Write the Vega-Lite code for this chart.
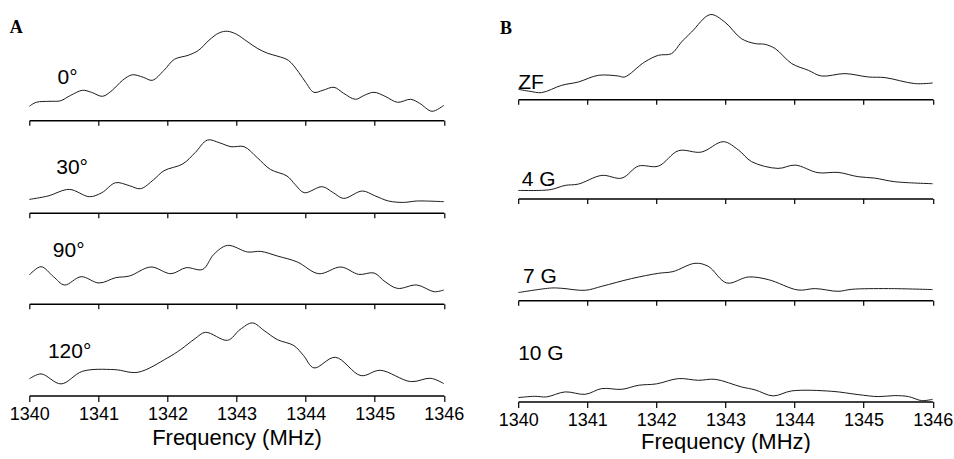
{
  "$schema": "https://vega.github.io/schema/vega-lite/v6.json",
  "background": "white",
  "autosize": {"type": "pad"},
  "padding": {"left": 8.3, "top": 12, "right": 0, "bottom": 0},
  "columns": 2,
  "align": "each",
  "bounds": "flush",
  "spacing": {"row": 2, "column": 73.9},
  "datasets": {
    "spectra": [
      {"panel":"A0","freq":1340.0,"intensity":14},{"panel":"A0","freq":1340.1,"intensity":18},{"panel":"A0","freq":1340.3,"intensity":19},{"panel":"A0","freq":1340.45,"intensity":19.5},{"panel":"A0","freq":1340.6,"intensity":25},{"panel":"A0","freq":1340.77,"intensity":30},{"panel":"A0","freq":1340.9,"intensity":28},{"panel":"A0","freq":1341.06,"intensity":24},{"panel":"A0","freq":1341.2,"intensity":30},{"panel":"A0","freq":1341.35,"intensity":40},{"panel":"A0","freq":1341.49,"intensity":45.5},{"panel":"A0","freq":1341.65,"intensity":43},{"panel":"A0","freq":1341.78,"intensity":40},{"panel":"A0","freq":1341.95,"intensity":50},{"panel":"A0","freq":1342.1,"intensity":61},{"panel":"A0","freq":1342.3,"intensity":65},{"panel":"A0","freq":1342.45,"intensity":70},{"panel":"A0","freq":1342.6,"intensity":80},{"panel":"A0","freq":1342.75,"intensity":87.5},{"panel":"A0","freq":1342.87,"intensity":89},{"panel":"A0","freq":1343.0,"intensity":86},{"panel":"A0","freq":1343.15,"intensity":79},{"panel":"A0","freq":1343.3,"intensity":72},{"panel":"A0","freq":1343.45,"intensity":67},{"panel":"A0","freq":1343.6,"intensity":64},{"panel":"A0","freq":1343.75,"intensity":60},{"panel":"A0","freq":1343.9,"intensity":48},{"panel":"A0","freq":1344.0,"intensity":38},{"panel":"A0","freq":1344.12,"intensity":28},{"panel":"A0","freq":1344.25,"intensity":30},{"panel":"A0","freq":1344.41,"intensity":33},{"panel":"A0","freq":1344.55,"intensity":27},{"panel":"A0","freq":1344.72,"intensity":21},{"panel":"A0","freq":1344.85,"intensity":25},{"panel":"A0","freq":1344.99,"intensity":28},{"panel":"A0","freq":1345.15,"intensity":24},{"panel":"A0","freq":1345.33,"intensity":18},{"panel":"A0","freq":1345.52,"intensity":21},{"panel":"A0","freq":1345.65,"intensity":17},{"panel":"A0","freq":1345.83,"intensity":9},{"panel":"A0","freq":1346.0,"intensity":15},
      {"panel":"A1","freq":1340.0,"intensity":13.3},{"panel":"A1","freq":1340.27,"intensity":16.7},{"panel":"A1","freq":1340.58,"intensity":23.3},{"panel":"A1","freq":1340.87,"intensity":16},{"panel":"A1","freq":1341.05,"intensity":20},{"panel":"A1","freq":1341.25,"intensity":30},{"panel":"A1","freq":1341.45,"intensity":27},{"panel":"A1","freq":1341.61,"intensity":24},{"panel":"A1","freq":1341.8,"intensity":33},{"panel":"A1","freq":1341.95,"intensity":42},{"panel":"A1","freq":1342.22,"intensity":48.7},{"panel":"A1","freq":1342.4,"intensity":60},{"panel":"A1","freq":1342.58,"intensity":72.7},{"panel":"A1","freq":1342.75,"intensity":70},{"panel":"A1","freq":1342.92,"intensity":66},{"panel":"A1","freq":1343.11,"intensity":66},{"panel":"A1","freq":1343.3,"intensity":55},{"panel":"A1","freq":1343.49,"intensity":43.3},{"panel":"A1","freq":1343.73,"intensity":36.7},{"panel":"A1","freq":1343.85,"intensity":28},{"panel":"A1","freq":1343.98,"intensity":20},{"panel":"A1","freq":1344.24,"intensity":26},{"panel":"A1","freq":1344.4,"intensity":20},{"panel":"A1","freq":1344.55,"intensity":14.3},{"panel":"A1","freq":1344.82,"intensity":21.7},{"panel":"A1","freq":1345.0,"intensity":17},{"panel":"A1","freq":1345.2,"intensity":11.7},{"panel":"A1","freq":1345.42,"intensity":10.3},{"panel":"A1","freq":1345.61,"intensity":11.7},{"panel":"A1","freq":1346.0,"intensity":11},
      {"panel":"A2","freq":1340.0,"intensity":28.7},{"panel":"A2","freq":1340.17,"intensity":37},{"panel":"A2","freq":1340.35,"intensity":27},{"panel":"A2","freq":1340.51,"intensity":18.7},{"panel":"A2","freq":1340.75,"intensity":27},{"panel":"A2","freq":1341.01,"intensity":20.7},{"panel":"A2","freq":1341.25,"intensity":26},{"panel":"A2","freq":1341.45,"intensity":27.7},{"panel":"A2","freq":1341.76,"intensity":36.7},{"panel":"A2","freq":1342.05,"intensity":30},{"panel":"A2","freq":1342.27,"intensity":36},{"panel":"A2","freq":1342.51,"intensity":34.3},{"panel":"A2","freq":1342.67,"intensity":49.3},{"panel":"A2","freq":1342.87,"intensity":58.3},{"panel":"A2","freq":1343.16,"intensity":51.7},{"panel":"A2","freq":1343.35,"intensity":52.3},{"panel":"A2","freq":1343.59,"intensity":47.7},{"panel":"A2","freq":1343.88,"intensity":41.7},{"panel":"A2","freq":1344.19,"intensity":30},{"panel":"A2","freq":1344.51,"intensity":36.7},{"panel":"A2","freq":1344.77,"intensity":29.3},{"panel":"A2","freq":1344.99,"intensity":30.7},{"panel":"A2","freq":1345.15,"intensity":22},{"panel":"A2","freq":1345.33,"intensity":15.3},{"panel":"A2","freq":1345.61,"intensity":18.7},{"panel":"A2","freq":1345.86,"intensity":12},{"panel":"A2","freq":1346.0,"intensity":13.7},
      {"panel":"A3","freq":1340.0,"intensity":16.7},{"panel":"A3","freq":1340.17,"intensity":21.7},{"panel":"A3","freq":1340.46,"intensity":11.7},{"panel":"A3","freq":1340.77,"intensity":24.3},{"panel":"A3","freq":1341.23,"intensity":26},{"panel":"A3","freq":1341.57,"intensity":23.3},{"panel":"A3","freq":1342.0,"intensity":37.7},{"panel":"A3","freq":1342.19,"intensity":46},{"panel":"A3","freq":1342.4,"intensity":57},{"panel":"A3","freq":1342.55,"intensity":63.3},{"panel":"A3","freq":1342.87,"intensity":55.3},{"panel":"A3","freq":1343.05,"intensity":66},{"panel":"A3","freq":1343.23,"intensity":72.7},{"panel":"A3","freq":1343.4,"intensity":65},{"panel":"A3","freq":1343.59,"intensity":56},{"panel":"A3","freq":1343.83,"intensity":50},{"panel":"A3","freq":1343.97,"intensity":40},{"panel":"A3","freq":1344.12,"intensity":27.7},{"panel":"A3","freq":1344.43,"intensity":38.3},{"panel":"A3","freq":1344.8,"intensity":20},{"panel":"A3","freq":1345.08,"intensity":25.3},{"panel":"A3","freq":1345.52,"intensity":14},{"panel":"A3","freq":1345.81,"intensity":17.3},{"panel":"A3","freq":1346.0,"intensity":12},
      {"panel":"B0","freq":1340.0,"intensity":10},{"panel":"B0","freq":1340.17,"intensity":8},{"panel":"B0","freq":1340.34,"intensity":6.7},{"panel":"B0","freq":1340.63,"intensity":14},{"panel":"B0","freq":1340.87,"intensity":17.3},{"panel":"B0","freq":1341.16,"intensity":24},{"panel":"B0","freq":1341.45,"intensity":23.3},{"panel":"B0","freq":1341.54,"intensity":22.3},{"panel":"B0","freq":1341.83,"intensity":37.3},{"panel":"B0","freq":1342.03,"intensity":44},{"panel":"B0","freq":1342.22,"intensity":45.7},{"panel":"B0","freq":1342.36,"intensity":57},{"panel":"B0","freq":1342.51,"intensity":67.3},{"panel":"B0","freq":1342.78,"intensity":84.7},{"panel":"B0","freq":1342.99,"intensity":77.3},{"panel":"B0","freq":1343.23,"intensity":60.7},{"panel":"B0","freq":1343.43,"intensity":55.7},{"panel":"B0","freq":1343.57,"intensity":55},{"panel":"B0","freq":1343.72,"intensity":50.7},{"panel":"B0","freq":1343.96,"intensity":35.7},{"panel":"B0","freq":1344.2,"intensity":29},{"panel":"B0","freq":1344.39,"intensity":23.3},{"panel":"B0","freq":1344.73,"intensity":25.7},{"panel":"B0","freq":1345.07,"intensity":22.3},{"panel":"B0","freq":1345.31,"intensity":21.7},{"panel":"B0","freq":1345.74,"intensity":15.7},{"panel":"B0","freq":1346.0,"intensity":16.3},
      {"panel":"B1","freq":1340.0,"intensity":8},{"panel":"B1","freq":1340.46,"intensity":8.7},{"panel":"B1","freq":1340.68,"intensity":13},{"panel":"B1","freq":1340.87,"intensity":14.3},{"panel":"B1","freq":1341.21,"intensity":23},{"panel":"B1","freq":1341.5,"intensity":20.3},{"panel":"B1","freq":1341.74,"intensity":32.3},{"panel":"B1","freq":1342.03,"intensity":32.3},{"panel":"B1","freq":1342.32,"intensity":47.7},{"panel":"B1","freq":1342.65,"intensity":46.3},{"panel":"B1","freq":1342.97,"intensity":56.7},{"panel":"B1","freq":1343.19,"intensity":48.3},{"panel":"B1","freq":1343.38,"intensity":36.7},{"panel":"B1","freq":1343.76,"intensity":30},{"panel":"B1","freq":1344.01,"intensity":33.3},{"panel":"B1","freq":1344.34,"intensity":25.7},{"panel":"B1","freq":1344.63,"intensity":26},{"panel":"B1","freq":1344.92,"intensity":21.7},{"panel":"B1","freq":1345.16,"intensity":20.3},{"panel":"B1","freq":1345.45,"intensity":16.7},{"panel":"B1","freq":1346.0,"intensity":14.7},
      {"panel":"B2","freq":1340.0,"intensity":7.7},{"panel":"B2","freq":1340.48,"intensity":12.3},{"panel":"B2","freq":1340.63,"intensity":12},{"panel":"B2","freq":1340.97,"intensity":10},{"panel":"B2","freq":1341.21,"intensity":14},{"panel":"B2","freq":1341.64,"intensity":21.7},{"panel":"B2","freq":1342.03,"intensity":27},{"panel":"B2","freq":1342.24,"intensity":28.7},{"panel":"B2","freq":1342.56,"intensity":37},{"panel":"B2","freq":1342.75,"intensity":34},{"panel":"B2","freq":1343.02,"intensity":17.3},{"panel":"B2","freq":1343.33,"intensity":23.3},{"panel":"B2","freq":1343.62,"intensity":20.7},{"panel":"B2","freq":1344.05,"intensity":10.3},{"panel":"B2","freq":1344.3,"intensity":11.7},{"panel":"B2","freq":1344.63,"intensity":9},{"panel":"B2","freq":1344.83,"intensity":11},{"panel":"B2","freq":1345.36,"intensity":11.7},{"panel":"B2","freq":1346.0,"intensity":10.7},
      {"panel":"B3","freq":1340.0,"intensity":4},{"panel":"B3","freq":1340.24,"intensity":5.3},{"panel":"B3","freq":1340.41,"intensity":4.7},{"panel":"B3","freq":1340.68,"intensity":9.7},{"panel":"B3","freq":1340.97,"intensity":7.3},{"panel":"B3","freq":1341.21,"intensity":13},{"panel":"B3","freq":1341.5,"intensity":12.3},{"panel":"B3","freq":1341.74,"intensity":16.3},{"panel":"B3","freq":1342.0,"intensity":17.7},{"panel":"B3","freq":1342.32,"intensity":23},{"panel":"B3","freq":1342.61,"intensity":21.3},{"panel":"B3","freq":1342.85,"intensity":22.3},{"panel":"B3","freq":1343.23,"intensity":14.7},{"panel":"B3","freq":1343.43,"intensity":11.7},{"panel":"B3","freq":1343.69,"intensity":5.7},{"panel":"B3","freq":1343.96,"intensity":10.7},{"panel":"B3","freq":1344.54,"intensity":10.3},{"panel":"B3","freq":1344.92,"intensity":7},{"panel":"B3","freq":1345.21,"intensity":5},{"panel":"B3","freq":1345.45,"intensity":6},{"panel":"B3","freq":1345.65,"intensity":5},{"panel":"B3","freq":1345.84,"intensity":1},{"panel":"B3","freq":1346.0,"intensity":2.3}
    ],
    "labels": [
      {"panel":"A0","label":"0°","freq":1340.41,"intensity":36},
      {"panel":"A1","label":"30°","freq":1340.39,"intensity":38.5},
      {"panel":"A2","label":"90°","freq":1340.34,"intensity":47},
      {"panel":"A3","label":"120°","freq":1340.27,"intensity":38},
      {"panel":"B0","label":"ZF","freq":1340.0,"intensity":10.5},
      {"panel":"B1","label":"4 G","freq":1340.05,"intensity":12.5},
      {"panel":"B2","label":"7 G","freq":1340.07,"intensity":17},
      {"panel":"B3","label":"10 G","freq":1340.0,"intensity":42}
    ]
  },
  "concat": [
    {"width": 414.5, "height": 107.3, "layer": [
      {"data": {"name": "spectra"}, "transform": [{"filter": "datum.panel === 'A0'"}],
       "mark": {"type": "line", "interpolate": "catmull-rom", "color": "#1a1a1a", "strokeWidth": 1},
       "encoding": {
         "x": {"field": "freq", "type": "quantitative", "scale": {"domain": [1340, 1346], "nice": false}, "axis": {"values": [1340,1341,1342,1343,1344,1345,1346], "labels": false, "title": null}},
         "y": {"field": "intensity", "type": "quantitative", "scale": {"domain": [0, 107.3], "nice": false}, "axis": {"title": "A", "domain": false, "ticks": false, "labels": false, "grid": false, "titleAngle": 0, "titleX": -20, "titleY": 19.7, "titleAlign": "left", "titleBaseline": "alphabetic", "titleFont": "Liberation Serif", "titleFontWeight": "bold", "titleFontSize": 18}}}},
      {"data": {"name": "labels"}, "transform": [{"filter": "datum.panel === 'A0'"}],
       "mark": {"type": "text", "align": "left", "baseline": "alphabetic", "font": "Liberation Sans", "fontSize": 21, "color": "black"},
       "encoding": {"x": {"field": "freq", "type": "quantitative"}, "y": {"field": "intensity", "type": "quantitative"}, "text": {"field": "label"}}}
    ]},
    {"width": 414.5, "height": 86.3, "layer": [
      {"data": {"name": "spectra"}, "transform": [{"filter": "datum.panel === 'B0'"}],
       "mark": {"type": "line", "interpolate": "catmull-rom", "color": "#1a1a1a", "strokeWidth": 1},
       "encoding": {
         "x": {"field": "freq", "type": "quantitative", "scale": {"domain": [1340, 1346], "nice": false}, "axis": {"values": [1340,1341,1342,1343,1344,1345,1346], "labels": false, "title": null}},
         "y": {"field": "intensity", "type": "quantitative", "scale": {"domain": [0, 86.3], "nice": false}, "axis": {"title": "B", "domain": false, "ticks": false, "labels": false, "grid": false, "titleAngle": 0, "titleX": -18.7, "titleY": 20, "titleAlign": "left", "titleBaseline": "alphabetic", "titleFont": "Liberation Serif", "titleFontWeight": "bold", "titleFontSize": 18}}}},
      {"data": {"name": "labels"}, "transform": [{"filter": "datum.panel === 'B0'"}],
       "mark": {"type": "text", "align": "left", "baseline": "alphabetic", "font": "Liberation Sans", "fontSize": 21, "color": "black"},
       "encoding": {"x": {"field": "freq", "type": "quantitative"}, "y": {"field": "intensity", "type": "quantitative"}, "text": {"field": "label"}}}
    ]},
    {"width": 414.5, "height": 89.7, "layer": [
      {"data": {"name": "spectra"}, "transform": [{"filter": "datum.panel === 'A1'"}],
       "mark": {"type": "line", "interpolate": "catmull-rom", "color": "#1a1a1a", "strokeWidth": 1},
       "encoding": {
         "x": {"field": "freq", "type": "quantitative", "scale": {"domain": [1340, 1346], "nice": false}, "axis": {"values": [1340,1341,1342,1343,1344,1345,1346], "labels": false, "title": null}},
         "y": {"field": "intensity", "type": "quantitative", "scale": {"domain": [0, 89.7], "nice": false}, "axis": null}}},
      {"data": {"name": "labels"}, "transform": [{"filter": "datum.panel === 'A1'"}],
       "mark": {"type": "text", "align": "left", "baseline": "alphabetic", "font": "Liberation Sans", "fontSize": 21, "color": "black"},
       "encoding": {"x": {"field": "freq", "type": "quantitative"}, "y": {"field": "intensity", "type": "quantitative"}, "text": {"field": "label"}}}
    ]},
    {"width": 414.5, "height": 75.4, "layer": [
      {"data": {"name": "spectra"}, "transform": [{"filter": "datum.panel === 'B1'"}],
       "mark": {"type": "line", "interpolate": "catmull-rom", "color": "#1a1a1a", "strokeWidth": 1},
       "encoding": {
         "x": {"field": "freq", "type": "quantitative", "scale": {"domain": [1340, 1346], "nice": false}, "axis": {"values": [1340,1341,1342,1343,1344,1345,1346], "labels": false, "title": null}},
         "y": {"field": "intensity", "type": "quantitative", "scale": {"domain": [0, 75.4], "nice": false}, "axis": null}}},
      {"data": {"name": "labels"}, "transform": [{"filter": "datum.panel === 'B1'"}],
       "mark": {"type": "text", "align": "left", "baseline": "alphabetic", "font": "Liberation Sans", "fontSize": 21, "color": "black"},
       "encoding": {"x": {"field": "freq", "type": "quantitative"}, "y": {"field": "intensity", "type": "quantitative"}, "text": {"field": "label"}}}
    ]},
    {"width": 414.5, "height": 88.7, "layer": [
      {"data": {"name": "spectra"}, "transform": [{"filter": "datum.panel === 'A2'"}],
       "mark": {"type": "line", "interpolate": "catmull-rom", "color": "#1a1a1a", "strokeWidth": 1},
       "encoding": {
         "x": {"field": "freq", "type": "quantitative", "scale": {"domain": [1340, 1346], "nice": false}, "axis": {"values": [1340,1341,1342,1343,1344,1345,1346], "labels": false, "title": null}},
         "y": {"field": "intensity", "type": "quantitative", "scale": {"domain": [0, 88.7], "nice": false}, "axis": null}}},
      {"data": {"name": "labels"}, "transform": [{"filter": "datum.panel === 'A2'"}],
       "mark": {"type": "text", "align": "left", "baseline": "alphabetic", "font": "Liberation Sans", "fontSize": 21, "color": "black"},
       "encoding": {"x": {"field": "freq", "type": "quantitative"}, "y": {"field": "intensity", "type": "quantitative"}, "text": {"field": "label"}}}
    ]},
    {"width": 414.5, "height": 85.3, "layer": [
      {"data": {"name": "spectra"}, "transform": [{"filter": "datum.panel === 'B2'"}],
       "mark": {"type": "line", "interpolate": "catmull-rom", "color": "#1a1a1a", "strokeWidth": 1},
       "encoding": {
         "x": {"field": "freq", "type": "quantitative", "scale": {"domain": [1340, 1346], "nice": false}, "axis": {"values": [1340,1341,1342,1343,1344,1345,1346], "labels": false, "title": null}},
         "y": {"field": "intensity", "type": "quantitative", "scale": {"domain": [0, 85.3], "nice": false}, "axis": null}}},
      {"data": {"name": "labels"}, "transform": [{"filter": "datum.panel === 'B2'"}],
       "mark": {"type": "text", "align": "left", "baseline": "alphabetic", "font": "Liberation Sans", "fontSize": 21, "color": "black"},
       "encoding": {"x": {"field": "freq", "type": "quantitative"}, "y": {"field": "intensity", "type": "quantitative"}, "text": {"field": "label"}}}
    ]},
    {"width": 414.5, "height": 89.6, "layer": [
      {"data": {"name": "spectra"}, "transform": [{"filter": "datum.panel === 'A3'"}],
       "mark": {"type": "line", "interpolate": "catmull-rom", "color": "#1a1a1a", "strokeWidth": 1},
       "encoding": {
         "x": {"field": "freq", "type": "quantitative", "scale": {"domain": [1340, 1346], "nice": false}, "axis": {"values": [1340,1340.5,1341,1341.5,1342,1342.5,1343,1343.5,1344,1344.5,1345,1345.5,1346], "format": "d", "labelExpr": "datum.value % 1 === 0 ? datum.label : ''", "labelFlush": false, "labelOverlap": false, "tickSize": {"condition": {"test": "datum.value % 1 === 0", "value": 6}, "value": 3}, "labelPadding": 4, "title": "Frequency (MHz)", "titlePadding": 4}},
         "y": {"field": "intensity", "type": "quantitative", "scale": {"domain": [0, 89.6], "nice": false}, "axis": null}}},
      {"data": {"name": "labels"}, "transform": [{"filter": "datum.panel === 'A3'"}],
       "mark": {"type": "text", "align": "left", "baseline": "alphabetic", "font": "Liberation Sans", "fontSize": 21, "color": "black"},
       "encoding": {"x": {"field": "freq", "type": "quantitative"}, "y": {"field": "intensity", "type": "quantitative"}, "text": {"field": "label"}}}
    ]},
    {"width": 414.5, "height": 95.6, "layer": [
      {"data": {"name": "spectra"}, "transform": [{"filter": "datum.panel === 'B3'"}],
       "mark": {"type": "line", "interpolate": "catmull-rom", "color": "#1a1a1a", "strokeWidth": 1},
       "encoding": {
         "x": {"field": "freq", "type": "quantitative", "scale": {"domain": [1340, 1346], "nice": false}, "axis": {"values": [1340,1340.5,1341,1341.5,1342,1342.5,1343,1343.5,1344,1344.5,1345,1345.5,1346], "format": "d", "labelExpr": "datum.value % 1 === 0 ? datum.label : ''", "labelFlush": false, "labelOverlap": false, "tickSize": {"condition": {"test": "datum.value % 1 === 0", "value": 6}, "value": 3}, "labelPadding": 4, "title": "Frequency (MHz)", "titlePadding": 2}},
         "y": {"field": "intensity", "type": "quantitative", "scale": {"domain": [0, 95.6], "nice": false}, "axis": null}}},
      {"data": {"name": "labels"}, "transform": [{"filter": "datum.panel === 'B3'"}],
       "mark": {"type": "text", "align": "left", "baseline": "alphabetic", "font": "Liberation Sans", "fontSize": 21, "color": "black"},
       "encoding": {"x": {"field": "freq", "type": "quantitative"}, "y": {"field": "intensity", "type": "quantitative"}, "text": {"field": "label"}}}
    ]}
  ],
  "config": {
    "view": {"stroke": null},
    "axis": {
      "grid": false,
      "domainColor": "black", "domainWidth": 1.5,
      "tickColor": "black", "tickWidth": 1.2, "tickSize": 5,
      "labelFont": "Liberation Sans", "labelFontSize": 18, "labelColor": "black",
      "titleFont": "Liberation Sans", "titleFontSize": 22, "titleFontWeight": "normal", "titleColor": "black"
    }
  }
}
